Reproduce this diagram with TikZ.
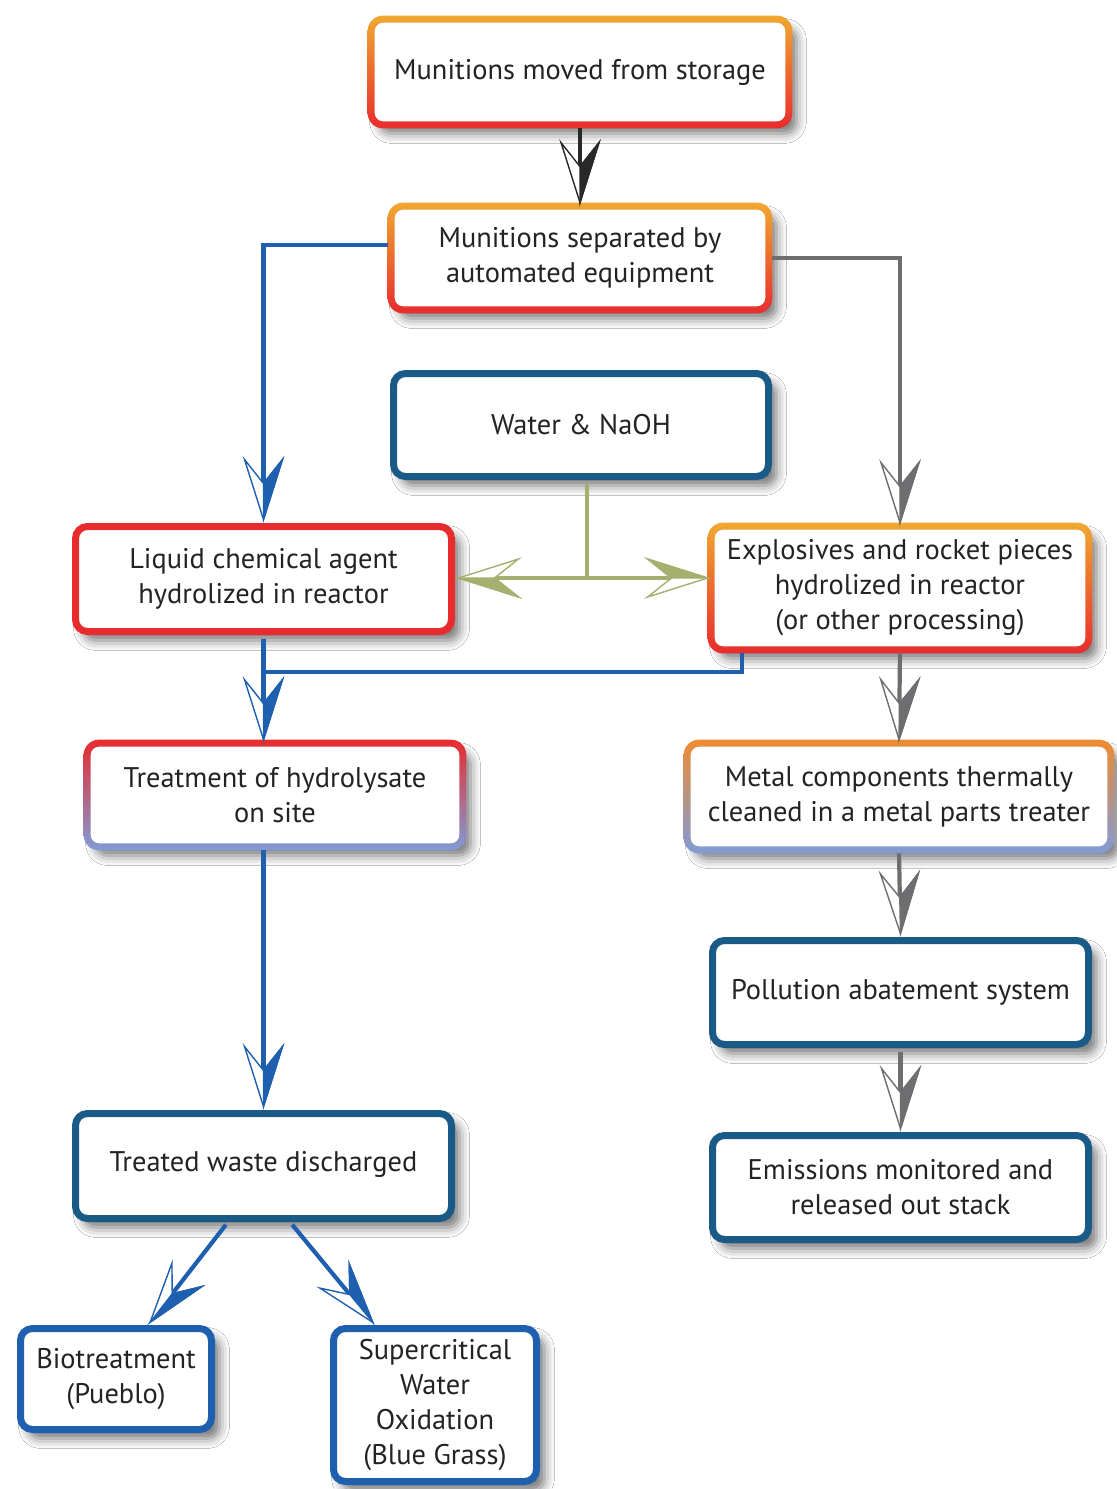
\documentclass[tikz,border=0pt]{standalone}
\usepackage{fontspec}
\setmainfont{PT Sans}
\usetikzlibrary{arrows.meta,shadows.blur}
\definecolor{cOrange}{RGB}{240,168,48}
\definecolor{cOrangeB}{RGB}{238,140,50}
\definecolor{cRed}{RGB}{232,44,46}
\definecolor{cTeal}{RGB}{26,90,135}
\definecolor{cBlue}{RGB}{30,95,175}
\definecolor{cLight}{RGB}{128,155,214}
\definecolor{cGray}{RGB}{110,110,113}
\definecolor{cDark}{RGB}{40,40,40}
\definecolor{cGreen}{RGB}{165,175,110}
\definecolor{cText}{RGB}{35,35,35}

\newdimen\hbtmp
\pgfdeclarearrow{
  name = HalfBarb,
  parameters = {\the\pgfarrowlength,\the\pgfarrowwidth,\the\pgfarrowinset},
  setup code = {
    \hbtmp=\pgfarrowinset
    \advance\hbtmp by -\pgfarrowlength
    \pgfarrowssettipend{0pt}
    \pgfarrowssetlineend{\hbtmp}
    \pgfarrowsupperhullpoint{-\pgfarrowlength}{.5\pgfarrowwidth}
    \pgfarrowshullpoint{0pt}{0pt}
    \pgfarrowssavethe\pgfarrowlength
    \pgfarrowssavethe\pgfarrowwidth
    \pgfarrowssavethe\pgfarrowinset
  },
  drawing code = {
    \hbtmp=\pgfarrowinset
    \advance\hbtmp by -\pgfarrowlength
    \pgfsetdash{}{0pt}
    \pgfsetmiterjoin
    \pgfsetlinewidth{0.7pt}
    \pgfscope
      \pgfpathmoveto{\pgfqpoint{0pt}{0pt}}
      \pgfpathlineto{\pgfqpoint{-\pgfarrowlength}{.5\pgfarrowwidth}}
      \pgfpathlineto{\pgfqpoint{\hbtmp}{0pt}}
      \pgfpathlineto{\pgfqpoint{-\pgfarrowlength}{-.5\pgfarrowwidth}}
      \pgfpathclose
      \pgfsetfillcolor{white}
      \pgfusepathqfillstroke
    \endpgfscope
    \pgfpathmoveto{\pgfqpoint{0pt}{0pt}}
    \pgfpathlineto{\pgfqpoint{-\pgfarrowlength}{.5\pgfarrowwidth}}
    \pgfpathlineto{\pgfqpoint{\hbtmp}{0pt}}
    \pgfpathclose
    \pgfusepathqfillstroke
  },
  defaults = {length=30pt, width=19pt, inset=12pt}
}

\newcommand{\gradring}[3]{%
  \shade[top color=#2, bottom color=#3, even odd rule, rounded corners=7.75pt]
    ([shift={(-1.75pt,1.75pt)}]#1.north west) rectangle ([shift={(1.75pt,-1.75pt)}]#1.south east)
    [rounded corners=4.25pt]
    ([shift={(1.75pt,-1.75pt)}]#1.north west) rectangle ([shift={(-1.75pt,1.75pt)}]#1.south east);}

\tikzset{
  box/.style={rectangle, rounded corners=6pt, fill=white, align=center, inner sep=0pt,
    font=\fontsize{14.2}{17.5}\selectfont, text=cText,
    blur shadow={shadow xshift=4pt, shadow yshift=-4.5pt, shadow blur radius=5pt, shadow opacity=55}},
  solidbox/.style={box, draw=#1, line width=3.5pt},
  gradbox/.style={box, draw=none},
  conn/.style={line width=2.1pt, shorten >=1.75pt, shorten <=1.75pt, -{HalfBarb}},
  link/.style={line width=2.1pt, shorten <=1.75pt},
}

\begin{document}
\begin{tikzpicture}[x=0.5pt, y=-0.5pt]
\useasboundingbox[fill=white] (0,0) rectangle (1116,1489);

% boxes
\node[gradbox, minimum width=208.5pt, minimum height=52.5pt] (n1) at (580,72) {Munitions moved from storage};
\gradring{n1}{cOrange}{cRed}
\node[gradbox, minimum width=188.5pt, minimum height=51.5pt] (n2) at (580,258) {Munitions separated by\\automated equipment};
\gradring{n2}{cOrange}{cRed}
\node[solidbox=cTeal, minimum width=187.5pt, minimum height=51.5pt] (n3) at (581,425) {Water \& NaOH};
\node[solidbox=cRed, minimum width=188pt, minimum height=52.5pt] (n4) at (263.5,579) {Liquid chemical agent\\hydrolized in reactor};
\node[gradbox, minimum width=188.5pt, minimum height=61.5pt] (n5) at (900,588) {Explosives and rocket pieces\\hydrolized in reactor\\(or other processing)};
\gradring{n5}{cOrange}{cRed}
\node[gradbox, minimum width=187.5pt, minimum height=51.5pt] (n6) at (275,795) {Treatment of hydrolysate\\on site};
\gradring{n6}{cRed}{cLight}
\node[gradbox, minimum width=211.5pt, minimum height=53pt] (n7) at (899,796.5) {Metal components thermally\\cleaned in a metal parts treater};
\gradring{n7}{cOrangeB}{cLight}
\node[solidbox=cTeal, minimum width=188pt, minimum height=52pt] (n8) at (900.5,992.5) {Pollution abatement system};
\node[solidbox=cTeal, minimum width=188pt, minimum height=52pt] (n9) at (900.5,1187.5) {Emissions monitored and\\released out stack};
\node[solidbox=cTeal, minimum width=188pt, minimum height=52.5pt] (n10) at (263.5,1166) {\raisebox{4.5pt}{Treated waste discharged}};
\node[solidbox=cBlue, minimum width=95.5pt, minimum height=50.5pt] (n11) at (116,1379) {Biotreatment\\(Pueblo)};
\node[solidbox=cBlue, minimum width=101.5pt, minimum height=76.5pt] (n12) at (435,1405) {Supercritical\\Water\\Oxidation\\(Blue Grass)};

% helper coordinates
\coordinate (g) at (587,578);
\coordinate (j) at (263.5,672);

% connectors
\draw[conn, color=cDark] (n1.south) -- (n2.north);
\draw[conn, color=cBlue] ([yshift=6.5pt]n2.west) -| (n4.north);
\draw[conn, color=cGray] (n2.east) -| (n5.north);
\draw[link, color=cGreen] ([xshift=3pt]n3.south) -- (g);
\draw[conn, color=cGreen, shorten <=0pt] (g) -- (n4.east |- g);
\draw[conn, color=cGreen, shorten <=0pt] (g) -- (n5.west |- g);
\draw[conn, color=cBlue] (n4.south) -- (n4.south |- n6.north);
\draw[link, color=cBlue] ([xshift=15.5pt]n5.south west) |- (j);
\draw[conn, color=cGray] (n5.south) -- (n7.north);
\draw[conn, color=cGray] (n7.south) -- (n8.north);
\draw[conn, color=cGray] (n8.south) -- (n9.north);
\draw[conn, color=cBlue] (n6.south -| j) -- (n10.north);
\draw[conn, color=cBlue] ([xshift=-17.75pt]n10.south) -- ([xshift=16pt]n11.north);
\draw[conn, color=cBlue] ([xshift=13.25pt]n10.south) -- ([xshift=-30pt]n12.north);
\end{tikzpicture}
\end{document}
